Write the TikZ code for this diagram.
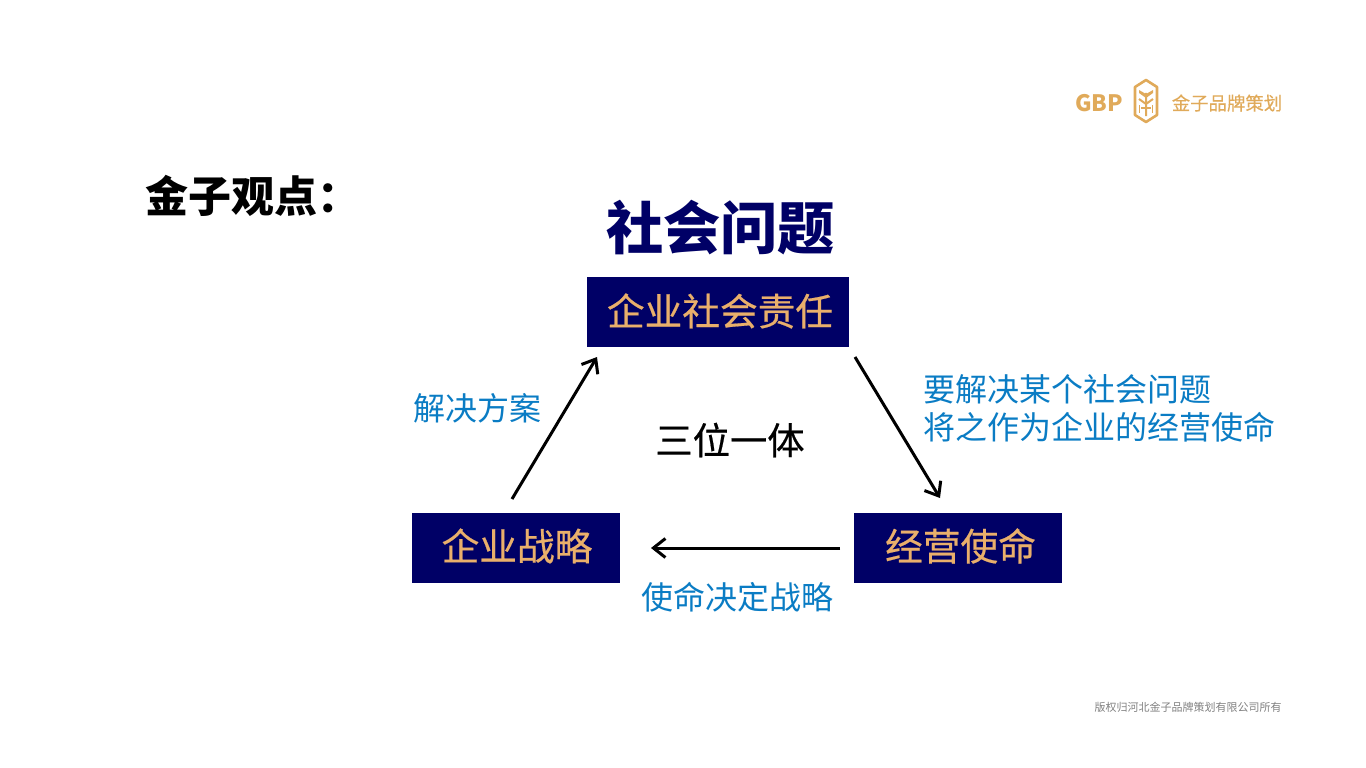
\documentclass[tikz,border=0pt]{standalone}
\usepackage{fontspec}
\setmainfont{Noto Sans CJK SC}
\newfontfamily\medfont[FakeBold=0.5]{Noto Sans CJK SC}
\newfontfamily\slightfont[FakeBold=0.25]{Noto Sans CJK SC}
\newcommand{\pxfont}[1]{\fontsize{#1}{#1}\selectfont}
\definecolor{navy}{HTML}{000066}
\definecolor{gold}{HTML}{E9AF6B}
\definecolor{logogold}{HTML}{E0AA5A}
\definecolor{blueText}{HTML}{0A7CC4}
\definecolor{greyText}{HTML}{808080}
\usetikzlibrary{arrows.meta}
\tikzset{
  box/.style={fill=navy,draw=none,inner sep=0pt,text=gold,anchor=center},
  lbl/.style={inner sep=0pt,anchor=center,text=blueText},
  arr/.style={-{Straight Barb[length=12pt,width=19pt,line width=3pt]},line width=3pt,black},
}
\begin{document}
\begin{tikzpicture}[x=1pt,y=-1pt]
\useasboundingbox (0,0) rectangle (1366,768);
% boxes
\node[box,minimum width=262pt,minimum height=70.5pt] (csr) at (717.5,312) {};
\node[box,minimum width=208.5pt,minimum height=70.5pt] (strategy) at (516,548) {};
\node[box,minimum width=208.5pt,minimum height=70.5pt] (mission) at (958,548) {};
\node[inner sep=0pt,text=gold] (csrT) at (720,311) {\pxfont{37.7}\medfont 企业社会责任};
\node[inner sep=0pt,text=gold] (strategyT) at (517,546) {\pxfont{37.7}\medfont 企业战略};
\node[inner sep=0pt,text=gold] (missionT) at (960.5,546) {\pxfont{37.7}\medfont 经营使命};
% titles
\node[inner sep=0pt] (view) at (253,196) {\pxfont{43}\bfseries 金子观点：};
\node[inner sep=0pt,text=navy] (issue) at (720.5,228) {\pxfont{57.2}\bfseries 社会问题};
\node[inner sep=0pt] (unity) at (730,440) {\pxfont{37.3}\medfont 三位一体};
% blue labels
\node[lbl] (l1) at (477,408) {\pxfont{32}解决方案};
\node[lbl,anchor=west] (l2a) at (923,389) {\pxfont{32}要解决某个社会问题};
\node[lbl,anchor=west] (l2b) at (923,427.5) {\pxfont{32}将之作为企业的经营使命};
\node[lbl] (l3) at (737,597) {\pxfont{32}使命决定战略};
% arrows
\coordinate (a1s) at (512,499);
\coordinate (a1e) at (597,357);
\coordinate (a2s) at (855,357);
\coordinate (a2e) at (940,498);
\coordinate (a3s) at (840,548);
\coordinate (a3e) at (651,548);
\draw[arr] (a1s) -- (a1e);
\draw[arr] (a2s) -- (a2e);
\draw[arr] (a3s) -- (a3e);
% logo
\node[inner sep=0pt,text=logogold] (gbp) at (1099.2,103) {\pxfont{22.6}\bfseries GBP};
\draw[logogold,line width=2.6pt,line join=round] (1146,80) -- (1157,87) -- (1157,115) -- (1146,122) -- (1135,115) -- (1135,87) -- cycle;
\fill[logogold] (1139,90) -- (1146,94) -- (1153,90) -- (1153,93) -- (1146,98) -- (1139,93) -- cycle;
\draw[logogold,line width=2pt] (1146,93) -- (1146,116) (1139,99) -- (1146,104) -- (1153,99);
\draw[logogold,line width=1.6pt] (1139.5,105) -- (1139.5,113) (1152.5,105) -- (1152.5,113) (1141,108) -- (1151,108);
\node[inner sep=0pt,text=logogold] (brand) at (1227,103) {\pxfont{18.4}\slightfont 金子品牌策划};
% footer
\node[inner sep=0pt,text=greyText] (foot) at (1188,707) {\pxfont{11}版权归河北金子品牌策划有限公司所有};
\end{tikzpicture}
\end{document}
